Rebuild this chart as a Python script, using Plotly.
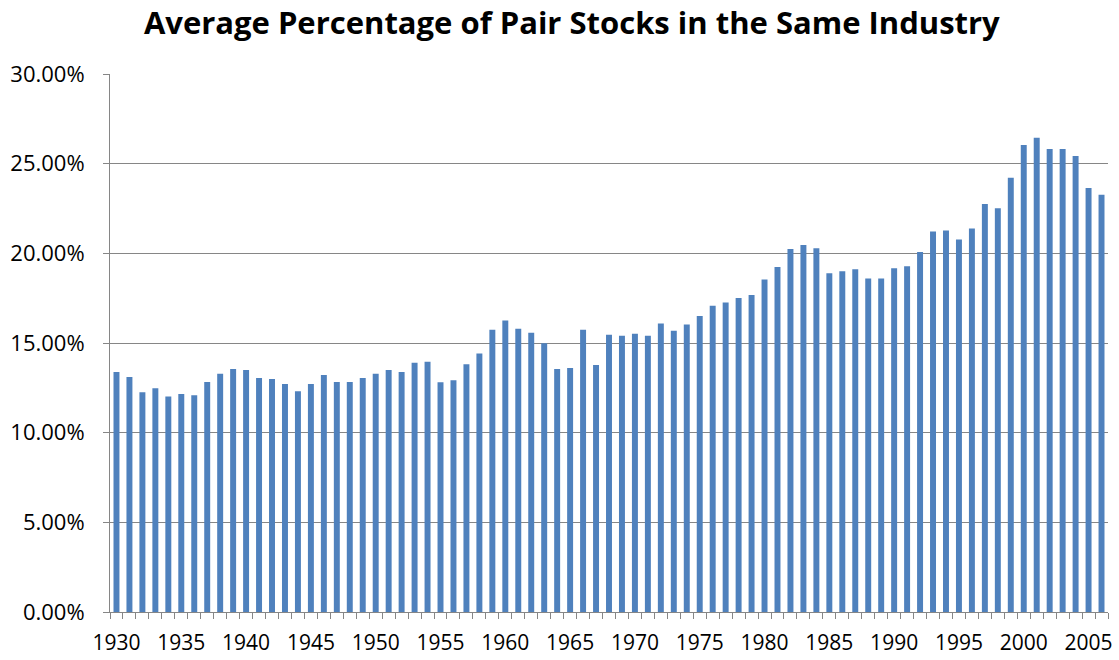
import plotly.graph_objects as go

years = list(range(1930, 2007))
values = [
    13.38, 13.11, 12.26, 12.48, 12.02, 12.15, 12.08, 12.83, 13.29, 13.55,
    13.49, 13.05, 12.99, 12.72, 12.31, 12.72, 13.22, 12.83, 12.83, 13.05,
    13.29, 13.49, 13.38, 13.90, 13.95, 12.81, 12.92, 13.82, 14.41, 15.74,
    16.25, 15.79, 15.57, 14.98, 13.55, 13.60, 15.74, 13.77, 15.46, 15.41,
    15.52, 15.41, 16.09, 15.68, 16.03, 16.50, 17.08, 17.26, 17.51, 17.68,
    18.54, 19.24, 20.24, 20.46, 20.29, 18.89, 19.00, 19.11, 18.60, 18.60,
    19.17, 19.28, 20.07, 21.22, 21.27, 20.77, 21.38, 22.75, 22.51, 24.22,
    26.04, 26.45, 25.82, 25.82, 25.43, 23.65, 23.26,
]
label_years = list(range(1930, 2006, 5))
y_ticks = [0, 0.05, 0.10, 0.15, 0.20, 0.25, 0.30]

fig = go.Figure(go.Bar(
    x=years,
    y=[v / 100 for v in values],
    marker=dict(color="#4F81BD", line=dict(width=0)),
))

fig.update_layout(
    width=1119, height=660,
    margin=dict(l=110, r=11, t=74, b=48),
    paper_bgcolor="white", plot_bgcolor="white",
    bargap=0.54,
    showlegend=False,
    font=dict(family="Open Sans", color="black"),
    title=dict(
        text="<b>Average Percentage of Pair Stocks in the Same Industry</b>",
        x=0.511, xanchor="center", y=0.9644, yanchor="middle",
        font=dict(family="Open Sans", size=31, color="black"),
    ),
)

fig.update_xaxes(
    range=[1929.5, 2006.5],
    tickmode="array", tickvals=label_years, ticktext=[str(y) for y in label_years],
    ticks="", showgrid=False,
    showline=True, linecolor="#868686", linewidth=1,
    tickfont=dict(size=21, family="Open Sans"),
    ticklabelstandoff=12,
    minor=dict(tick0=1929.5, dtick=1, ticks="outside", ticklen=6,
               tickcolor="#868686", showgrid=False),
    zeroline=False,
    automargin=False,
)

fig.update_yaxes(
    range=[0, 0.30],
    tickmode="array", tickvals=y_ticks, tickformat=".2%",
    ticks="outside", ticklen=6, tickcolor="#868686",
    showgrid=True, gridcolor="#868686", gridwidth=1,
    showline=True, linecolor="#868686", linewidth=1,
    tickfont=dict(size=22, family="Open Sans"),
    ticklabelstandoff=14,
    zeroline=False,
    automargin=False,
)

fig.write_html(
    "out.html",
    config={"displayModeBar": False},
    post_script="document.body.style.margin='0';",
)
